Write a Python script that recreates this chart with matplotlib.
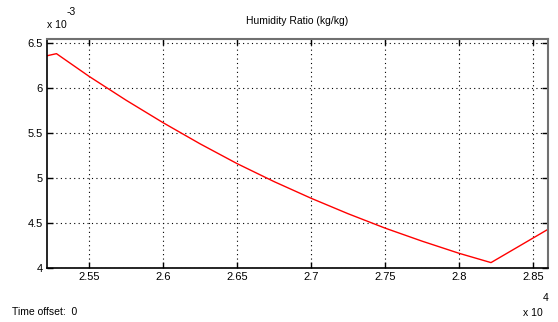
import numpy as np
import matplotlib
matplotlib.use("Agg")
import matplotlib.pyplot as plt
from matplotlib.ticker import FuncFormatter, MultipleLocator

plt.rcParams['font.family'] = ['Liberation Sans', 'DejaVu Sans']

# time (s) and humidity ratio (kg/kg)
t = [25214, 25280, 25500, 25750, 26000, 26250, 26500, 26750,
     27000, 27250, 27500, 27750, 28000, 28215, 28600]
w = [6.358e-3, 6.382e-3, 6.13e-3, 5.865e-3, 5.615e-3, 5.38e-3, 5.16e-3, 4.96e-3,
     4.775e-3, 4.603e-3, 4.443e-3, 4.298e-3, 4.163e-3, 4.06e-3, 4.43e-3]

title = "Humidity Ratio (kg/kg)"

fig = plt.figure(figsize=(5.58, 3.22), dpi=100)
ax = fig.add_axes([46.7/558, 1-268/322, (548-46.7)/558, (268-39)/322])

ax.plot(t, w, color='#ff0000', lw=1)

ax.set_xlim(25214, 28600)
ax.set_ylim(4.0e-3, 6.545e-3)
ax.xaxis.set_major_locator(MultipleLocator(500))
ax.yaxis.set_major_locator(MultipleLocator(0.5e-3))
ax.xaxis.set_major_formatter(FuncFormatter(lambda v, p: '%g' % round(v/1e4, 4)))
ax.yaxis.set_major_formatter(FuncFormatter(lambda v, p: '%g' % round(v*1e3, 4)))

ax.grid(True, color='black', linestyle=(0, (1, 3)), lw=0.8)
ax.tick_params(direction='in', length=4, width=1, labelsize=8, pad=3,
               top=True, right=True)

for s in ['left', 'bottom']:
    ax.spines[s].set_color('black')
    ax.spines[s].set_linewidth(1.2)
for s in ['top', 'right']:
    ax.spines[s].set_color('#707070')
    ax.spines[s].set_linewidth(1.5)

fig.text(0.5*(46.7+548)/558, 1-21/322, title, ha='center', va='center', fontsize=7.5)

# MATLAB style exponent labels
fig.text(47/558, 1-25/322, 'x 10', ha='left', va='center', fontsize=7.5)
fig.text(67/558, 1-12/322, '-3', ha='left', va='center', fontsize=7.5)
fig.text(523/558, 1-313/322, 'x 10', ha='left', va='center', fontsize=7.5)
fig.text(543/558, 1-298/322, '4', ha='left', va='center', fontsize=7.5)

fig.text(12/558, 1-312/322, 'Time offset:  0', ha='left', va='center', fontsize=7.5)

fig.savefig('out.png', dpi=100)
